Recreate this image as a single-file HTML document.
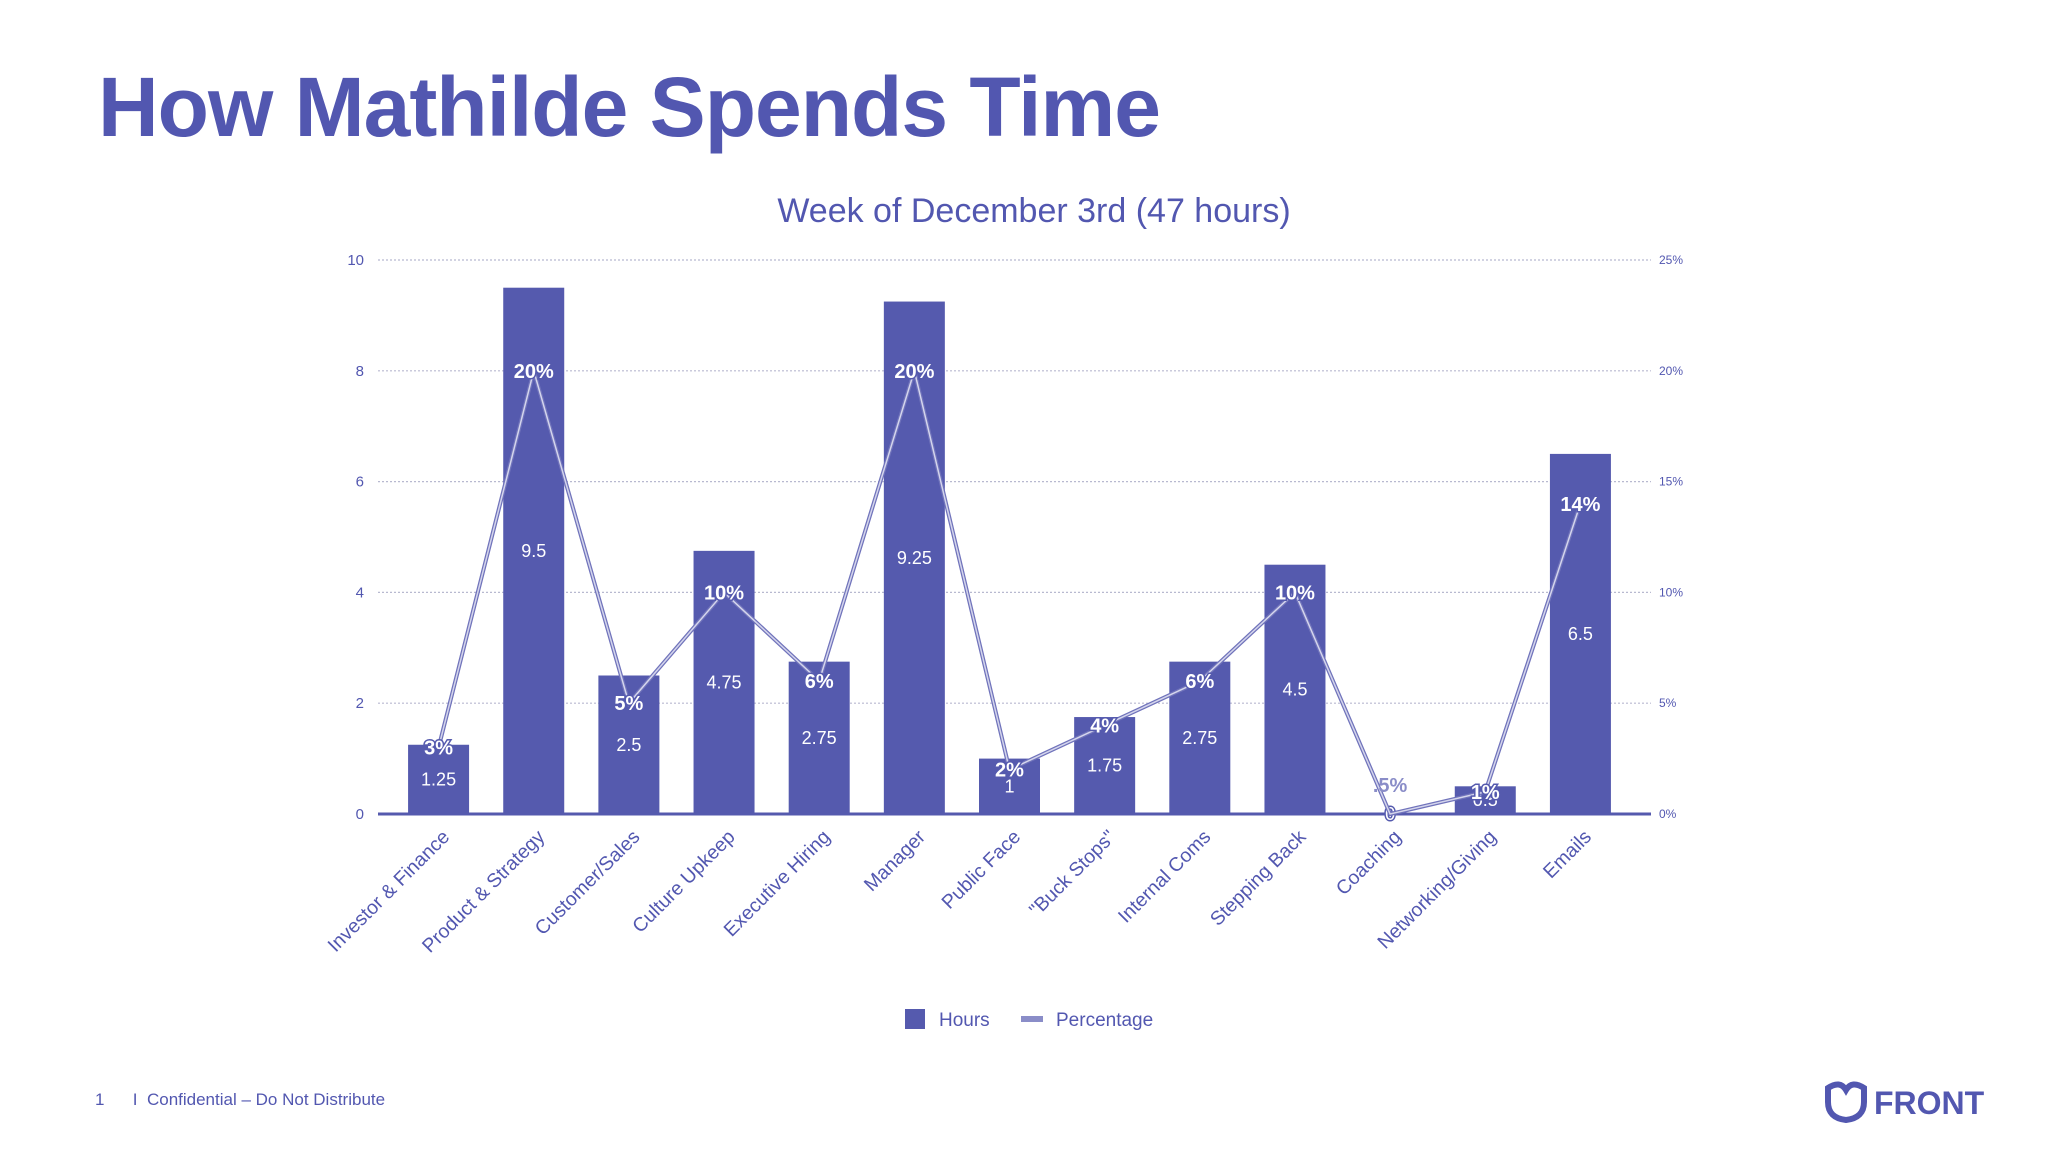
<!DOCTYPE html>
<html><head><meta charset="utf-8"><style>
body{margin:0;width:2056px;height:1155px;background:#fff;overflow:hidden;font-family:"Liberation Sans",sans-serif}
</style></head><body>
<svg width="2056" height="1155" viewBox="0 0 2056 1155" xmlns="http://www.w3.org/2000/svg">
<text x="98" y="136" font-size="84" font-weight="bold" fill="#5257b0" letter-spacing="-1">How Mathilde Spends Time</text>
<text x="1034" y="222" font-size="34" fill="#5257b0" text-anchor="middle">Week of December 3rd (47 hours)</text>
<g id="chart"></g>
<g>
<rect x="905" y="1009" width="20" height="20" fill="#555aae"/>
<text x="939" y="1026" font-size="19" fill="#5257b0">Hours</text>
<rect x="1021" y="1016" width="22" height="6" fill="#8a8dc8"/>
<text x="1056" y="1026" font-size="19" fill="#5257b0">Percentage</text>
</g>
<text x="95" y="1105" font-size="17" fill="#5257b0">1 &#160;&#160;&#160;&#160;&#160;I &#160;Confidential – Do Not Distribute</text>
<g>
<path d="M1828 1088 q12 -8 18 2 q6 -10 18 -2 v14 q0 16 -18 18 q-18 -2 -18 -18z" fill="none" stroke="#5257b0" stroke-width="6"/>
<text x="1874" y="1114" font-size="32" font-weight="bold" fill="#5257b0">FRONT</text>
</g>
</svg>
<script>
const categories=["Investor & Finance","Product & Strategy","Customer/Sales","Culture Upkeep","Executive Hiring","Manager","Public Face","\"Buck Stops\"","Internal Coms","Stepping Back","Coaching","Networking/Giving","Emails"];
const hours=[1.25,9.5,2.5,4.75,2.75,9.25,1,1.75,2.75,4.5,0,0.5,6.5];
const hourLabels=["1.25","9.5","2.5","4.75","2.75","9.25","1","1.75","2.75","4.5","0","0.5","6.5"];
const percents=[3,20,5,10,6,20,2,4,6,10,0,1,14];
const percentLabels=["3%","20%","5%","10%","6%","20%","2%","4%","6%","10%",".5%","1%","14%"];
const leftTicks=[0,2,4,6,8,10];
const rightTicks=[0,5,10,15,20,25];
const NS="http://www.w3.org/2000/svg";
const g=document.getElementById("chart");
const GX0=378,GX1=1651;
const X0=391,X1=1628,Y0=814,Y1=260;
const step=(X1-X0)/categories.length;
const xc=i=>X0+step*(i+0.5);
const yL=v=>Y0-(v/10)*(Y0-Y1);
const yR=v=>Y0-(v/25)*(Y0-Y1);
function mk(t,a){const e=document.createElementNS(NS,t);for(const k in a)e.setAttribute(k,a[k]);g.appendChild(e);return e;}
leftTicks.forEach((t,i)=>{
 const l=mk("line",{x1:GX0,x2:GX1,y1:yL(t),y2:yL(t),stroke:t===0?"#555aae":"#b8b9d0","stroke-width":t===0?3:1.2,"stroke-dasharray":t===0?"":"2 2"});
 
 
 const tx=mk("text",{x:GX0-14,y:yL(t)+5,"font-size":15,fill:"#5257b0","text-anchor":"end"});tx.textContent=t;
 
 
});
rightTicks.forEach(t=>{
 const tx=mk("text",{x:GX1+8,y:yR(t)+4,"font-size":12,fill:"#5257b0"});tx.textContent=t+"%";
 
 
});
const bw=61;
hours.forEach((h,i)=>{
 if(h>0){const r=mk("rect",{x:xc(i)-bw/2,y:yL(h),width:bw,height:Y0-yL(h),fill:"#555aae"});
 
 }
});
hours.forEach((h,i)=>{
 const y=h>0?(yL(h)+Y0)/2+6:Y0+6;
 const tx=mk("text",{x:xc(i),y:y,"font-size":18,fill:"#fff","text-anchor":"middle",stroke:h>0?"none":"#555aae","stroke-width":3,"paint-order":"stroke"});tx.textContent=hourLabels[i];
 
 
});
const pts=percents.map((p,i)=>xc(i)+","+yR(p)).join(" ");
const pl=mk("polyline",{points:pts,fill:"none",stroke:"#7073bb","stroke-width":4});


const pl2=mk("polyline",{points:pts,fill:"none",stroke:"#d4d5ec","stroke-width":1.5});


percents.forEach((p,i)=>{
 const off=p===0?-22:7;
 const tx=mk("text",{x:xc(i),y:yR(p)+off,"font-size":20,"font-weight":"bold",fill:p===0?"#8a8dc8":"#fff",stroke:p===0?"none":"#555aae","stroke-width":3,"paint-order":"stroke","text-anchor":"middle"});tx.textContent=percentLabels[i];
 
 
});
categories.forEach((c,i)=>{
 const x=xc(i)+12,y=Y0+24;
 const tx=mk("text",{x:x,y:y,"font-size":19.5,fill:"#5257b0","text-anchor":"end",transform:`rotate(-45 ${x} ${y})`});tx.textContent=c;
 
 
});
</script>
</body></html>
